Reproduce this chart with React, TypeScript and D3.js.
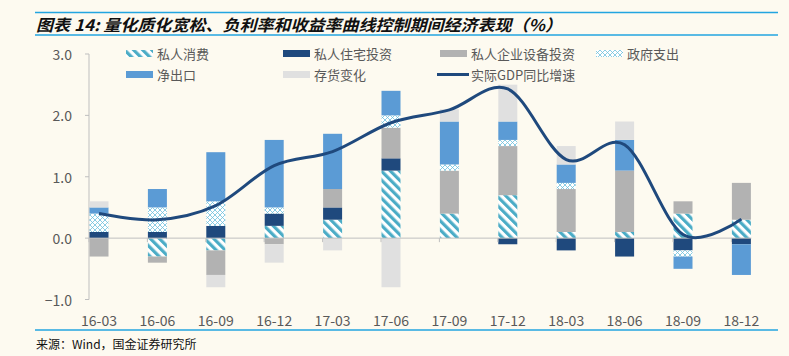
import React from "react";
import * as d3 from "d3";

const categories = ["16-03", "16-06", "16-09", "16-12", "17-03", "17-06", "17-09", "17-12", "18-03", "18-06", "18-09", "18-12"];
const consumption = [0, -0.3, -0.2, 0.2, 0.3, 1.1, 0.4, 0.7, 0.1, 0.1, 0.4, 0.3];
const residential = [0.1, 0.1, 0.2, 0.2, 0.2, 0.2, 0, -0.1, -0.2, -0.3, -0.2, -0.1];
const equipment = [-0.3, -0.1, -0.4, -0.1, 0.3, 0.5, 0.7, 0.8, 0.7, 1.0, 0.2, 0.6];
const government = [0.3, 0.4, 0.4, 0.1, 0, 0.2, 0.1, 0.1, 0.1, 0, -0.1, 0];
const netExports = [0.1, 0.3, 0.8, 1.1, 0.9, 0.4, 0.7, 0.3, 0.3, 0.5, -0.2, -0.5];
const inventory = [0.1, 0, -0.2, -0.3, -0.2, -0.8, 0.2, 0.6, 0.3, 0.3, 0, 0];
const gdp = [0.4, 0.3, 0.53, 1.18, 1.41, 1.88, 2.09, 2.43, 1.28, 1.52, 0.06, 0.31];
const yTicks = [-1, 0, 1, 2, 3];

const seriesNames = ["私人消费", "私人住宅投资", "私人企业设备投资", "政府支出", "净出口", "存货变化"];
const lineName = "实际GDP同比增速";
const titleText = "图表 14:  量化质化宽松、负利率和收益率曲线控制期间经济表现（%）";
const sourceText = "来源：Wind，国金证券研究所";

const seriesValues = [consumption, residential, equipment, government, netExports, inventory];
const fills = ["url(#stripe)", "#1F497D", "#B2B2B2", "url(#cross)", "#5B9BD5", "#E0E0E0"];

const W = 789;
const H = 356;
const FONT = "'Noto Sans CJK SC', 'Noto Sans', sans-serif";

export default function App() {
  const x = d3.scaleBand<string>().domain(categories).range([89, 89 + 58.4 * 12]).padding(0);
  const y = d3.scaleLinear().domain([-1, 3]).range([299.5, 54]);
  const barW = 19;
  const barOff = 0.5;
  const center = (c: string) => (x(c) as number) + 10;

  const table = categories.map((c, i) => {
    const row: any = { cat: c };
    seriesNames.forEach((k, j) => (row[k] = seriesValues[j][i]));
    return row;
  });
  const stacked = d3.stack<any>().keys(seriesNames).offset(d3.stackOffsetDiverging)(table);

  const line = d3
    .line<number>()
    .x((_, i) => center(categories[i]))
    .y((v) => y(v))
    .curve(d3.curveCatmullRom.alpha(0));

  const legendItems = [
    { name: seriesNames[0], fill: fills[0], ix: 126, cy: 53.5 },
    { name: seriesNames[1], fill: fills[1], ix: 283, cy: 53.5 },
    { name: seriesNames[2], fill: fills[2], ix: 440, cy: 53.5 },
    { name: seriesNames[3], fill: fills[3], ix: 596, cy: 53.5 },
    { name: seriesNames[4], fill: fills[4], ix: 126, cy: 74.5 },
    { name: seriesNames[5], fill: fills[5], ix: 283, cy: 74.5 },
  ];

  const axisEnd = (x(categories[categories.length - 1]) as number) + 20;

  return (
    <svg width={W} height={H} style={{ position: "absolute", left: 0, top: 0, display: "block" }} fontFamily={FONT}>
      <defs>
        <pattern id="stripe" patternUnits="userSpaceOnUse" width={6.4} height={6.4} patternTransform="rotate(-45)">
          <rect width={6.4} height={6.4} fill="#ffffff" />
          <rect width={3.2} height={6.4} fill="#4BACC6" />
        </pattern>
        <pattern id="cross" patternUnits="userSpaceOnUse" width={5} height={5}>
          <rect width={5} height={5} fill="#ffffff" />
          <path d="M0,0 L5,5 M5,0 L0,5" stroke="#6EC0DC" strokeWidth={0.8} />
        </pattern>
      </defs>
      <rect width={W} height={H} fill="#FDFAF0" />

      <line x1={35} x2={778} y1={12.5} y2={12.5} stroke="#22A5E0" strokeWidth={1.3} />
      <text
        x={36}
        y={24}
        dominantBaseline="central"
        fontSize={16}
        fontWeight="bold"
        fontStyle="italic"
        fill="#111"
        textLength={526}
        lengthAdjust="spacingAndGlyphs"
      >
        {titleText}
      </text>
      <line x1={35} x2={778} y1={35} y2={35} stroke="#22A5E0" strokeWidth={1.3} />

      {legendItems.map((d) => (
        <g key={d.name}>
          <rect x={d.ix} y={d.cy - 3.5} width={27} height={7} fill={d.fill} />
          <text x={d.ix + 31} y={d.cy} dominantBaseline="central" fontSize={13} fill="#595959">
            {d.name}
          </text>
        </g>
      ))}
      <line x1={437} x2={469} y1={74.5} y2={74.5} stroke="#1F497D" strokeWidth={3} />
      <text x={471} y={74.5} dominantBaseline="central" fontSize={13} fill="#595959">
        {lineName}
      </text>

      <line x1={89} x2={89} y1={y(3)} y2={y(-1)} stroke="#BFBFBF" />
      {yTicks.map((t) => (
        <g key={t}>
          <line x1={85} x2={89} y1={y(t)} y2={y(t)} stroke="#BFBFBF" />
          <text x={72} y={y(t)} textAnchor="end" dominantBaseline="central" fontSize={14} fill="#595959">
            {d3.format(".1f")(t)}
          </text>
        </g>
      ))}

      {stacked.map((s, j) => (
        <g key={s.key} fill={fills[j]}>
          {s.map((d, i) =>
            d[1] - d[0] !== 0 ? (
              <rect
                key={i}
                x={(x(categories[i]) as number) + barOff}
                width={barW}
                y={y(Math.max(d[0], d[1]))}
                height={Math.abs(y(d[0]) - y(d[1]))}
              />
            ) : null
          )}
        </g>
      ))}

      <line x1={89} x2={axisEnd} y1={y(0)} y2={y(0)} stroke="#BFBFBF" />
      {categories.map((c) => (
        <g key={c}>
          <line x1={x(c) as number} x2={x(c) as number} y1={y(0)} y2={y(0) + 4} stroke="#BFBFBF" />
          <text x={center(c)} y={319.5} textAnchor="middle" dominantBaseline="central" fontSize={14} fill="#595959">
            {c}
          </text>
        </g>
      ))}

      <path d={line(gdp) as string} fill="none" stroke="#1F497D" strokeWidth={3} />

      <line x1={35} x2={778} y1={330} y2={330} stroke="#22A5E0" strokeWidth={1.3} />
      <text x={36} y={343} dominantBaseline="central" fontSize={12} fill="#111">
        {sourceText}
      </text>
    </svg>
  );
}
